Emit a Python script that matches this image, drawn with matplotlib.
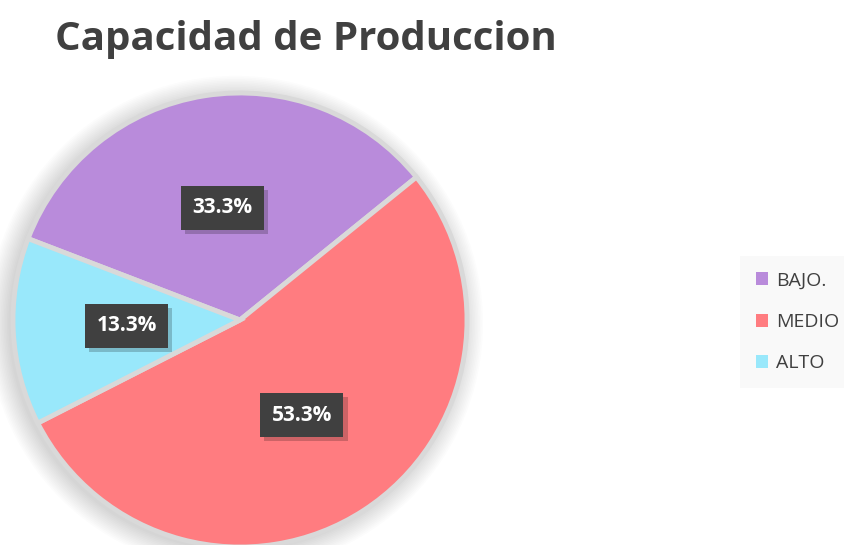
import matplotlib.pyplot as plt
import matplotlib.patheffects as pe
from matplotlib.patches import Circle

labels = ['BAJO.', 'MEDIO', 'ALTO']
counts = [5, 8, 2]
colors = ['#B98BDB', '#FF7C80', '#99E8FB']

plt.rcParams['font.family'] = ['Open Sans', 'DejaVu Sans']

fig = plt.figure(figsize=(8.45, 5.45), dpi=100)
fig.patch.set_facecolor('white')

# pie area: centre ~ (240, 320) px, radius ~ 227 px
ax = fig.add_axes([13 / 845, -2 / 545, 454 / 845, 454 / 545])

wedges, _, autotexts = ax.pie(
    counts, colors=colors, startangle=159, counterclock=False,
    autopct='%1.1f%%', pctdistance=0.5, radius=1.0, frame=True,
    wedgeprops=dict(edgecolor='#d9d9d9', linewidth=3.5),
    textprops=dict(color='white', fontsize=15, fontweight='bold'))
ax.set_xlim(-1, 1)
ax.set_ylim(-1, 1)
ax.axis('off')

# soft shadow round the pie
for i in range(14):
    c = Circle((-0.02, -0.015), 1.0 + i * 0.007, color='black',
               alpha=0.01, lw=0, zorder=0)
    c.set_clip_on(False)
    ax.add_patch(c)

for t in autotexts:
    t.set_bbox(dict(boxstyle='square,pad=0.55', facecolor='#404040', edgecolor='none'))
    t.get_bbox_patch().set_path_effects([
        pe.SimplePatchShadow(offset=(3, -3), shadow_rgbFace='black', alpha=0.2),
        pe.Normal()])

fig.text(55 / 845, 1 - 50 / 545, 'Capacidad de Produccion', fontsize=29,
         fontweight='bold', color='#404040', va='baseline', ha='left')

leg = fig.legend(wedges, labels, loc='upper left',
                 bbox_to_anchor=(740 / 845, 1 - 256 / 545),
                 frameon=True, fancybox=False, fontsize=14,
                 handlelength=0.65, handleheight=0.65, handletextpad=0.4,
                 labelspacing=1.2, borderpad=0.8, borderaxespad=0)
leg.get_frame().set_facecolor('#f8f8f8')
leg.get_frame().set_edgecolor('none')
for txt in leg.get_texts():
    txt.set_color('#404040')
for h in leg.legend_handles:
    h.set_edgecolor('none')

fig.savefig('out.png', dpi=100)
